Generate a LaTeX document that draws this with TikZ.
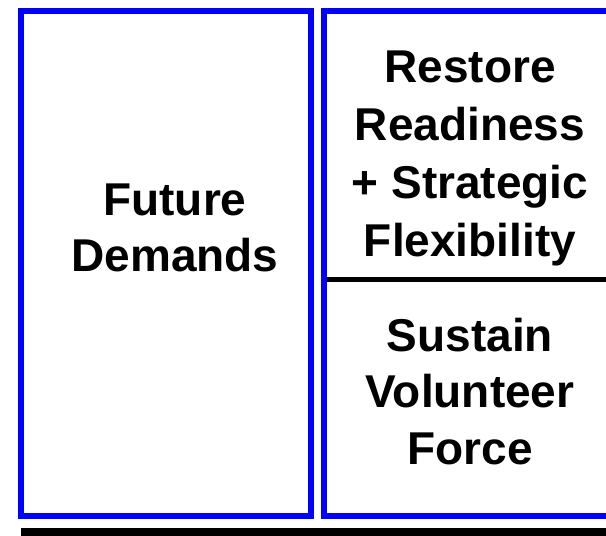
\documentclass[tikz,border=0pt]{standalone}
\usepackage{fontspec}
\setmainfont{Liberation Sans}
\begin{document}
\begin{tikzpicture}[x=0.75pt,y=-0.75pt,
  panel/.style={draw={rgb,255:red,0;green,0;blue,255},line width=4.5pt},
  label/.style={font=\bfseries\fontsize{34.5}{42.5}\selectfont,align=center,inner sep=0pt,text=black},
  toplabel/.style={label,font=\bfseries\fontsize{34.5}{43.5}\selectfont}]
\useasboundingbox (0,0) rectangle (606,535);
\clip (0,0) rectangle (606,535);
\fill[white] (0,0) rectangle (606,535);
% panels
\draw[panel] (21.3,11.3) rectangle (311.3,516);
\draw[panel] (323.7,11.3) rectangle (620,516);
% divider and base bar
\coordinate (dl) at (326.7,279);
\coordinate (dr) at (606,279);
\draw[line width=3.75pt,black] (dl) -- (dr);
\fill[black] (21.3,528.3) rectangle (620,545);
% labels
\node[label] (future) at (175,228) {Future\\Demands};
\node[toplabel] (restore) at (470,158) {Restore\\Readiness\\+ Strategic\\Flexibility};
\node[label] (sustain) at (470,391.5) {Sustain\\Volunteer\\Force};
\end{tikzpicture}
\end{document}
